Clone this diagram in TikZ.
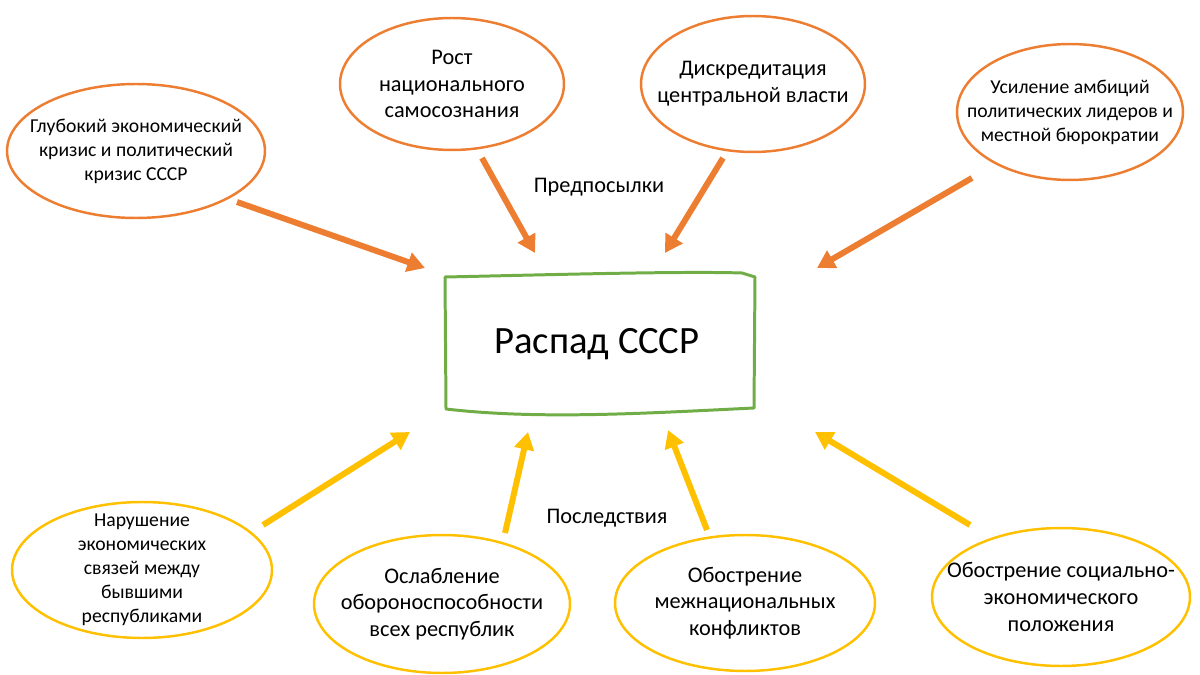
\documentclass[tikz,border=0pt]{standalone}
\usepackage{fontspec}
\setmainfont{Carlito}
\usetikzlibrary{arrows.meta,shapes.geometric}

\definecolor{causeorange}{HTML}{ED7D31}
\definecolor{effectgold}{HTML}{FFC000}
\definecolor{boxgreen}{HTML}{70AD47}

\begin{document}
\begin{tikzpicture}[
  x=0.02cm, y=-0.02cm,
  oval/.style={ellipse, draw, line width=1.4pt, inner sep=0pt},
  cause/.style={oval, draw=causeorange},
  effect/.style={oval, draw=effectgold},
  bigtxt/.style={align=center, inner sep=0pt, font=\fontsize{12.7}{15.2}\selectfont},
  smalltxt/.style={align=center, inner sep=0pt, font=\fontsize{11.2}{13.6}\selectfont},
  push/.style={line width=3.4pt, -{Triangle[length=10pt,width=11pt]}}
]
\useasboundingbox (0,0) rectangle (1200,675);

% central box
\draw[boxgreen, line width=1.7pt, line join=round]
  (445,277) .. controls (540,275) and (680,271) .. (742,273) -- (755,277)
  -- (754,408) .. controls (650,413) and (540,420) .. (446,409) -- cycle;
\node[inner sep=0pt, font=\fontsize{22}{26}\selectfont] (raspad) at (597,344) {Распад СССР};

% causes
\node[cause, minimum width=5.16cm, minimum height=2.68cm] (glub) at (136,151) {};
\node[smalltxt] (glub-t) at (glub) {Глубокий экономический\\кризис и политический\\кризис СССР};
\node[cause, minimum width=4.48cm, minimum height=2.64cm] (rost) at (452,84) {};
\node[bigtxt] (rost-t) at (rost) {Рост\\национального\\самосознания};
\node[cause, minimum width=4.48cm, minimum height=2.72cm] (diskr) at (753,84) {};
\node[bigtxt] (diskr-t) at (diskr) {Дискредитация\\центральной власти};
\node[cause, minimum width=4.52cm, minimum height=2.72cm] (usil) at (1070,112) {};
\node[smalltxt] (usil-t) at (usil) {Усиление амбиций\\политических лидеров и\\местной бюрократии};

% effects
\node[effect, minimum width=5.2cm, minimum height=2.72cm] (narush) at (142,570) {};
\node[smalltxt] (narush-t) at (narush) {Нарушение\\экономических\\связей между\\бывшими\\республиками};
\node[effect, minimum width=5.12cm, minimum height=2.76cm] (oslab) at (442,604) {};
\node[bigtxt] (oslab-t) at (oslab) {Ослабление\\обороноспособности\\всех республик};
\node[effect, minimum width=5.2cm, minimum height=2.72cm] (mezh) at (745,603) {};
\node[bigtxt] (mezh-t) at (mezh) {Обострение\\межнациональных\\конфликтов};
\node[effect, minimum width=5.16cm, minimum height=2.76cm] (soc) at (1061,597) {};
\node[bigtxt] (soc-t) at (soc) {Обострение социально-\\экономического\\положения};

\node[bigtxt] (pred) at (599,187) {Предпосылки};
\node[bigtxt] (posl) at (607,518) {Последствия};

% arrow ends
\coordinate (glub-a) at (237,202);   \coordinate (glub-b) at (425,268);
\coordinate (rost-a) at (482,158);   \coordinate (rost-b) at (535,253);
\coordinate (diskr-a) at (723,158);  \coordinate (diskr-b) at (665,253);
\coordinate (usil-a) at (972,178);   \coordinate (usil-b) at (817,268);
\coordinate (narush-a) at (263,525); \coordinate (narush-b) at (410,432);
\coordinate (oslab-a) at (505,533);  \coordinate (oslab-b) at (528,432);
\coordinate (mezh-a) at (707,530);   \coordinate (mezh-b) at (668,430);
\coordinate (soc-a) at (970,525);    \coordinate (soc-b) at (815,432);

\foreach \n in {glub,rost,diskr,usil}
  \draw[push, causeorange] (\n-a) -- (\n-b);
\foreach \n in {narush,oslab,mezh,soc}
  \draw[push, effectgold] (\n-a) -- (\n-b);
\end{tikzpicture}
\end{document}
